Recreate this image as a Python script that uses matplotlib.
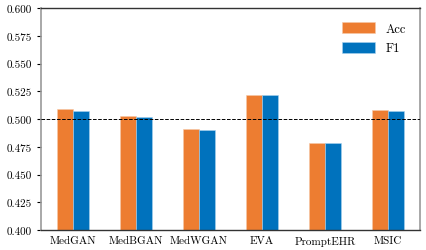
import numpy as np
import matplotlib
matplotlib.use('Agg')
import matplotlib.pyplot as plt

plt.rcParams['font.family'] = 'serif'
plt.rcParams['font.serif'] = ['cmr10', 'DejaVu Serif']
plt.rcParams['mathtext.fontset'] = 'cm'
plt.rcParams['axes.formatter.use_mathtext'] = True

models = ['MedGAN', 'MedBGAN', 'MedWGAN', 'EVA', 'PromptEHR', 'MSIC']
acc = [0.509, 0.503, 0.491, 0.522, 0.478, 0.508]
f1 = [0.507, 0.502, 0.490, 0.522, 0.478, 0.507]

fig = plt.figure(figsize=(4.26, 2.51), dpi=100)
ax = fig.add_axes([41 / 426, 20 / 251, 379 / 426, 222 / 251])

x = np.arange(len(models))
w = 0.25
ax.bar(x - w / 2, acc, w, color='#ED7D31', edgecolor='#F6C8A8', linewidth=0.4, label='Acc', zorder=2)
ax.bar(x + w / 2, f1, w, color='#0072BD', edgecolor='#A9D2EE', linewidth=0.4, label='F1', zorder=2)
ax.axhline(0.5, color='black', linestyle='--', linewidth=0.7, zorder=3)

ax.set_ylim(0.4, 0.6)
ax.set_xlim(-0.51, 5.51)
ticks = np.arange(0.4, 0.6001, 0.025)
ax.set_yticks(ticks)
ax.set_yticklabels(['%.3f' % v for v in ticks])
ax.set_xticks(x)
ax.set_xticklabels(models)
ax.tick_params(labelsize=8, length=3, width=0.8)
ax.tick_params(axis='x', length=0, pad=4)

for side in ['left', 'right']:
    ax.spines[side].set_color('#999999')
    ax.spines[side].set_linewidth(1.2)
for side in ['top', 'bottom']:
    ax.spines[side].set_color('#333333')
    ax.spines[side].set_linewidth(1.0)

ax.legend(loc='upper right', frameon=False, fontsize=9, handlelength=2.6,
          handleheight=1.0, labelspacing=0.55, borderaxespad=0.7, handletextpad=0.9)

fig.savefig('out.png', dpi=100)
